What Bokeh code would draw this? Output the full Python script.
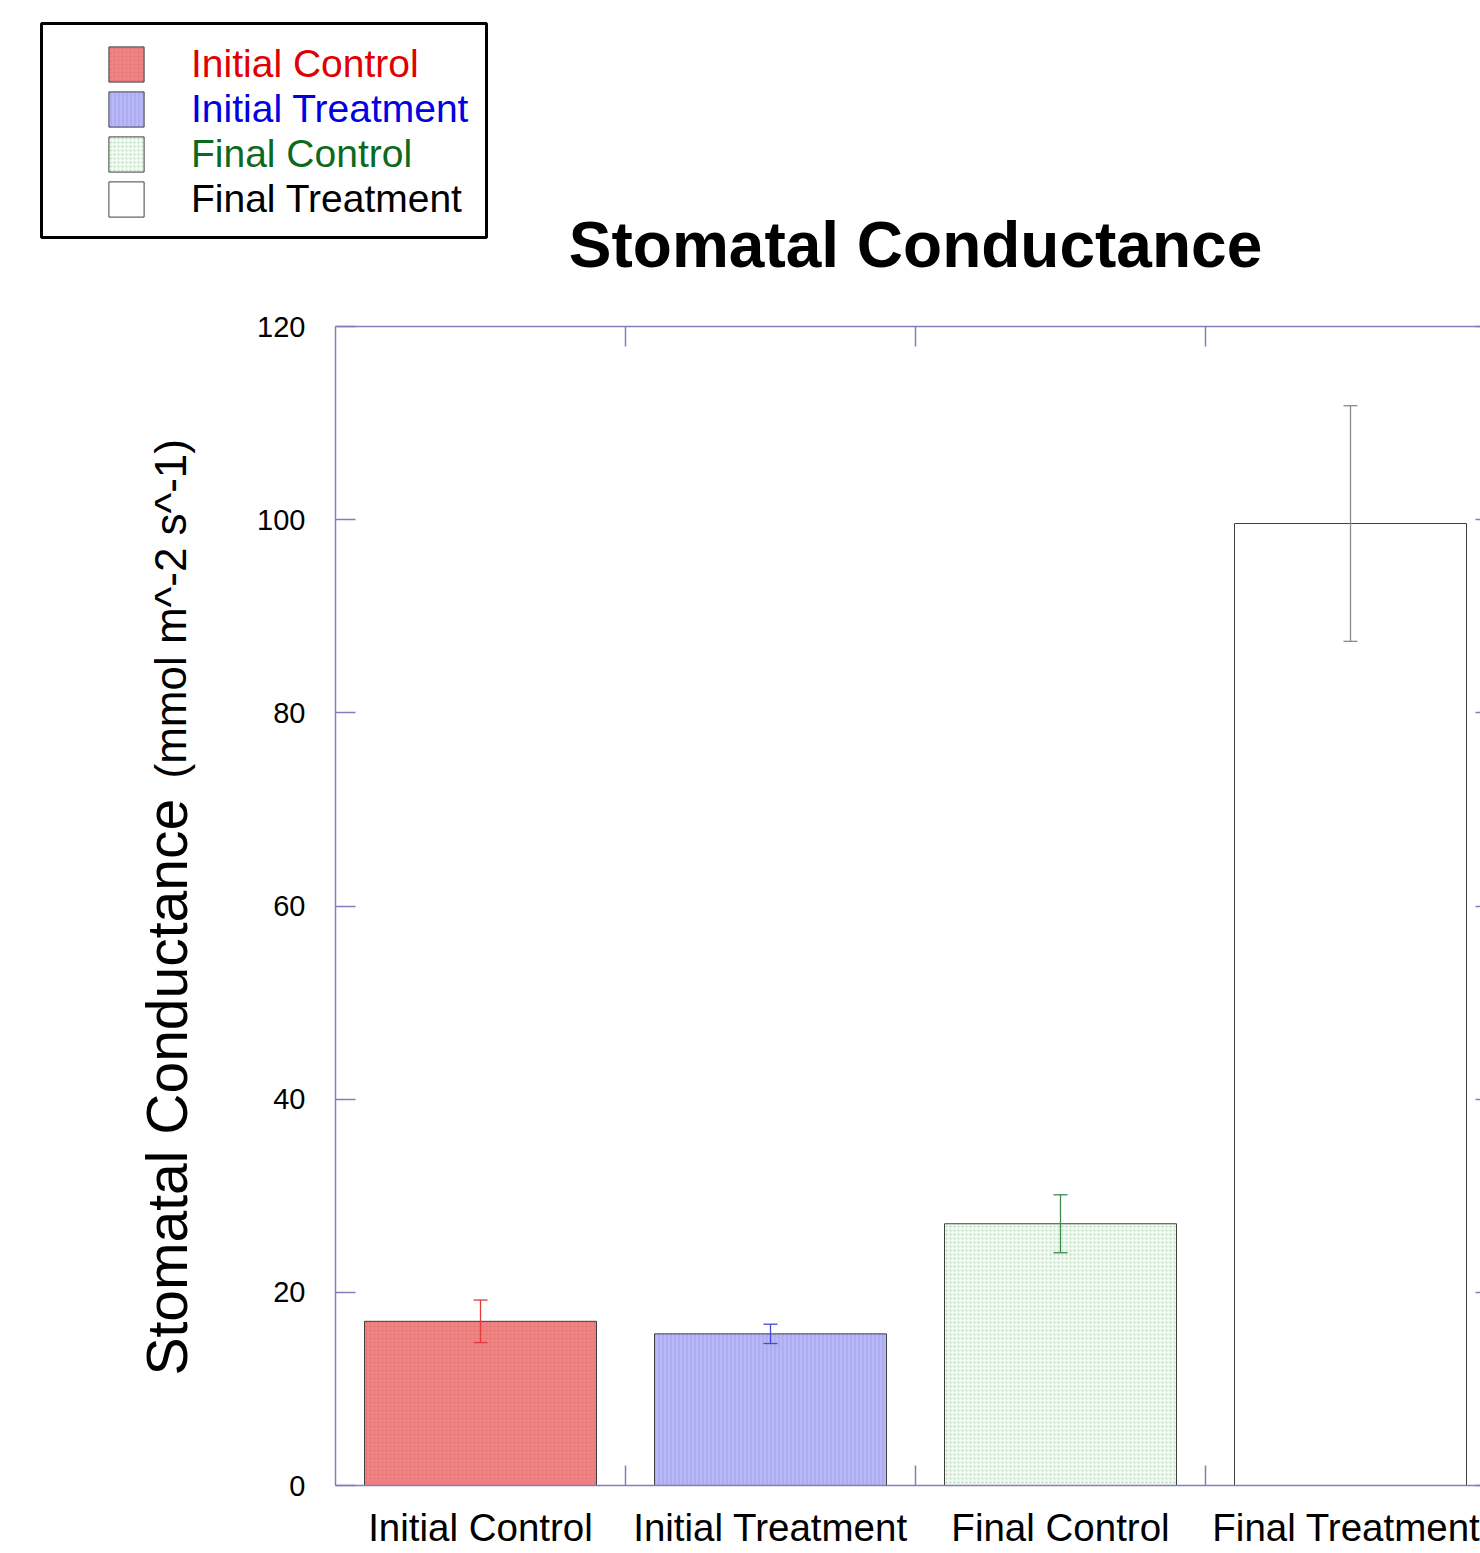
from bokeh.plotting import figure
from bokeh.models import (ColumnDataSource, Range1d, LinearAxis, FixedTicker, Legend,
                          LegendItem, Label, Whisker, TeeHead, BoxAnnotation)
from bokeh.embed import file_html
from bokeh.resources import INLINE

# ---- data ----
categories = ["Initial Control", "Initial Treatment", "Final Control", "Final Treatment"]
means = [17.0, 15.7, 27.1, 99.6]
errors = [2.2, 1.0, 3.0, 12.2]
y_ticks = [0, 20, 40, 60, 80, 100, 120]

# ---- styles ----
fills = ["#f08282", "#b8b8f6", "#f2f9f2", "#ffffff"]
hatches = ["dot", "vertical_line", "dot", "blank"]
hatch_colors = ["#e07474", "#a2a2ee", "#b8dcb8", "#ffffff"]
err_colors = ["#e03a3a", "#4848d8", "#3c8a50", "#8a8a8a"]
label_colors = ["#e00000", "#0000e0", "#0b6a20", "#000000"]
FONT = "Liberation Sans"
AXIS = "#8080b8"

W, H_FIG = 1480, 1553
# plotting area in page pixels: x from 335 (cat -0.5) with 290 px per category,
# y from 1485 (value 0) to 326 (value 120)
PX_X = 290.0
PX_Y = (1485 - 326) / 120.0
x0 = -0.5 - 335 / PX_X
y0 = -(H_FIG - 1485) / PX_Y

xs = list(range(len(categories)))
src = ColumnDataSource(dict(x=xs, top=means, fill=fills, hatch=hatches, hcol=hatch_colors))

p = figure(width=W, height=H_FIG,
           x_range=Range1d(x0, x0 + W / PX_X), y_range=Range1d(y0, y0 + H_FIG / PX_Y),
           x_axis_location=None, y_axis_location=None,
           output_backend="svg", toolbar_location=None,
           min_border_left=0, min_border_right=0, min_border_top=0, min_border_bottom=0)
for g in p.grid:
    g.visible = False
p.outline_line_color = None
p.background_fill_color = "white"
p.border_fill_color = "white"

bars = p.vbar(x="x", top="top", bottom=0, width=0.8, source=src,
              fill_color="fill", line_color="#404040", line_width=1,
              hatch_pattern="hatch", hatch_color="hcol", hatch_scale=4, hatch_weight=1)

for i in range(len(categories)):
    ws = ColumnDataSource(dict(base=[xs[i]], upper=[means[i] + errors[i]],
                               lower=[means[i] - errors[i]]))
    w = Whisker(source=ws, base="base", upper="upper", lower="lower",
                line_color=err_colors[i], line_width=1.3, level="overlay",
                upper_head=TeeHead(size=14, line_color=err_colors[i], line_width=1.3),
                lower_head=TeeHead(size=14, line_color=err_colors[i], line_width=1.3))
    p.add_layout(w)

# ---- axes (fixed at data positions) ----
y_lo, y_hi = y_ticks[0], y_ticks[-1]
x_lo, x_hi = -0.5, len(categories) - 0.5
bounds_minor = [k + 0.5 for k in xs[:-1]]

left = LinearAxis(ticker=FixedTicker(ticks=y_ticks, minor_ticks=[]),
                  fixed_location=x_lo, bounds=(y_lo, y_hi),
                  major_tick_in=20, major_tick_out=0, minor_tick_in=0, minor_tick_out=0,
                  axis_line_color=AXIS, axis_line_width=1.5, major_tick_line_color=AXIS,
                  major_tick_line_width=1.5,
                  major_label_standoff=30, major_label_text_font=FONT,
                  major_label_text_font_size="29px", major_label_text_color="black")
p.add_layout(left, "left")

right = LinearAxis(ticker=FixedTicker(ticks=y_ticks, minor_ticks=[]),
                   fixed_location=x_hi, bounds=(y_lo, y_hi),
                   major_tick_in=20, major_tick_out=0, minor_tick_in=0, minor_tick_out=0,
                   axis_line_color=None, major_tick_line_color=AXIS, major_tick_line_width=1.5,
                   major_label_overrides={t: "" for t in y_ticks}, major_label_standoff=0)
p.add_layout(right, "right")

bottom = LinearAxis(ticker=FixedTicker(ticks=xs, minor_ticks=bounds_minor),
                    fixed_location=y_lo, bounds=(x_lo, x_hi),
                    major_label_overrides={i: c for i, c in enumerate(categories)},
                    major_tick_in=0, major_tick_out=0, minor_tick_in=20, minor_tick_out=0,
                    minor_tick_line_color=AXIS, minor_tick_line_width=1.5,
                    axis_line_color=AXIS, axis_line_width=1.5,
                    major_label_standoff=20, major_label_text_font=FONT,
                    major_label_text_font_size="38.5px", major_label_text_color="black")
p.add_layout(bottom, "below")

top = LinearAxis(ticker=FixedTicker(ticks=[], minor_ticks=bounds_minor),
                 fixed_location=y_hi, bounds=(x_lo, x_hi),
                 major_tick_in=0, major_tick_out=0, minor_tick_in=20, minor_tick_out=0,
                 minor_tick_line_color=AXIS, minor_tick_line_width=1.5,
                 axis_line_color=AXIS, axis_line_width=1.5, major_label_standoff=0)
p.add_layout(top, "above")

# ---- titles (screen units: from canvas bottom-left) ----
p.add_layout(Label(x=(x_lo + x_hi) / 2, y=H_FIG - 267 + 23, x_units="data", y_units="screen",
                   text="Stomatal Conductance", text_font=FONT, text_font_size="64px",
                   text_font_style="bold", text_color="black",
                   text_align="center", text_baseline="alphabetic"))
p.add_layout(Label(x=166, y=H_FIG - 1375, x_units="screen", y_units="screen",
                   angle=90, angle_units="deg",
                   text="Stomatal Conductance", text_font=FONT, text_font_size="57px",
                   text_color="black", text_align="left", text_baseline="alphabetic"))
p.add_layout(Label(x=170, y=H_FIG - 778, x_units="screen", y_units="screen",
                   angle=90, angle_units="deg",
                   text="(mmol m^-2 s^-1)", text_font=FONT, text_font_size="44px",
                   text_color="black", text_align="left", text_baseline="alphabetic"))

# ---- legend ----
GL = 44  # legend glyph box; Bokeh draws the swatch at 80% of it
for i in range(len(categories)):
    lg = Legend(items=[LegendItem(label=categories[i], renderers=[bars], index=i)],
                location=(104, H_FIG - (46 + 45 * i) - GL + 4), padding=0, margin=0, spacing=0,
                border_line_color=None, background_fill_alpha=0,
                glyph_width=GL, glyph_height=GL, label_standoff=43,
                label_text_font=FONT, label_text_font_size="39px",
                label_text_color=label_colors[i])
    p.add_layout(lg)

p.add_layout(BoxAnnotation(left=41, right=486, bottom=H_FIG - 237, top=H_FIG - 23,
                           left_units="screen", right_units="screen",
                           top_units="screen", bottom_units="screen",
                           fill_alpha=0, line_color="black", line_alpha=1.0, line_width=3))

open("out.html", "w").write(file_html(p, INLINE))
